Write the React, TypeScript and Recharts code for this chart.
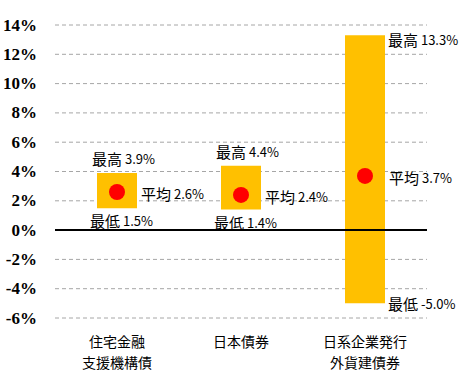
import { ComposedChart, Bar, Scatter, XAxis, YAxis, CartesianGrid, ReferenceLine, LabelList } from 'recharts';

const categories = ['住宅金融\n支援機構債', '日本債券', '日系企業発行\n外貨建債券'];
const lows = [1.5, 1.4, -5.0];
const highs = [3.9, 4.4, 13.3];
const avgs = [2.6, 2.4, 3.7];
const yTicks = [-6, -4, -2, 0, 2, 4, 6, 8, 10, 12, 14];

const BAR_SIZE = 40;
const LABEL_FONT = '"Noto Sans CJK JP", "Noto Sans", sans-serif';
const AXIS_FONT = '"Liberation Serif", "DejaVu Serif", "Times New Roman", serif';

const data = categories.map((name, i) => ({
  name,
  range: [lows[i], highs[i]],
  low: lows[i],
  high: highs[i],
  avg: avgs[i],
}));

const fmt = (v: number) => `${v.toFixed(1)}%`;

// 最高/最低 + 数値 (数値は少し小さめ)
function TagText({ x, y, tag, value }: { x: number; y: number; tag: string; value: number }) {
  return (
    <text x={x} y={y} dominantBaseline="central" fill="#000" style={{ fontFamily: LABEL_FONT }}>
      <tspan fontSize={15}>{tag}</tspan>
      <tspan fontSize={13}>{` ${fmt(value)}`}</tspan>
    </text>
  );
}

const renderRangeLabels = (props: any) => {
  const { x, y, width, height, index } = props;
  const top = Math.min(y, y + height);
  const bottom = Math.max(y, y + height);
  const tall = bottom - top > 80;
  if (tall) {
    // 大きいバーはラベルを右側に
    return (
      <g>
        <TagText x={x + width + 3} y={top + 4} tag="最高" value={highs[index]} />
        <TagText x={x + width + 3} y={bottom} tag="最低" value={lows[index]} />
      </g>
    );
  }
  return (
    <g>
      <TagText x={x - 5} y={top - 15} tag="最高" value={highs[index]} />
      <TagText x={x - 7} y={bottom + 12} tag="最低" value={lows[index]} />
    </g>
  );
};

const renderAvg = (props: any) => {
  const { cx, cy, payload } = props;
  return (
    <g>
      <circle cx={cx} cy={cy} r={8} fill="#FF0000" />
      <TagText x={cx + BAR_SIZE / 2 + 4} y={cy + 1} tag="平均" value={payload.avg} />
    </g>
  );
};

const renderCategoryTick = (props: any) => {
  const { x, y, payload } = props;
  const lines = String(payload.value).split('\n');
  return (
    <g>
      {lines.map((line, i) => (
        <text
          key={i}
          x={x}
          y={y + 15 + i * 20.5}
          textAnchor="middle"
          dominantBaseline="central"
          fill="#000"
          fontSize={14}
          style={{ fontFamily: LABEL_FONT }}
        >
          {line}
        </text>
      ))}
    </g>
  );
};

const renderValueTick = (props: any) => {
  const { x, y, payload } = props;
  return (
    <text
      x={x}
      y={y}
      textAnchor="end"
      dominantBaseline="central"
      fill="#000"
      style={{ fontFamily: AXIS_FONT, fontWeight: 700, fontSize: 17 }}
    >
      {`${payload.value}%`}
    </text>
  );
};

export default function App() {
  return (
    <div style={{ position: 'absolute', left: 0, top: 0, background: '#fff' }}>
      <ComposedChart width={470} height={375} data={data} margin={{ top: 25, right: 43, bottom: 0, left: 0 }}>
        <CartesianGrid vertical={false} stroke="#A6A6A6" strokeDasharray="4 3" />
        <XAxis
          dataKey="name"
          axisLine={false}
          tickLine={false}
          height={57}
          interval={0}
          tick={renderCategoryTick}
        />
        <YAxis
          type="number"
          domain={[-6, 14]}
          ticks={yTicks}
          width={55}
          axisLine={false}
          tickLine={false}
          tickMargin={12}
          tick={renderValueTick}
        />
        <ReferenceLine y={0} stroke="#000" strokeWidth={2} />
        <Bar dataKey="range" fill="#FFC000" barSize={BAR_SIZE} isAnimationActive={false}>
          <LabelList dataKey="range" content={renderRangeLabels} />
        </Bar>
        <Scatter dataKey="avg" shape={renderAvg} isAnimationActive={false} />
      </ComposedChart>
    </div>
  );
}
